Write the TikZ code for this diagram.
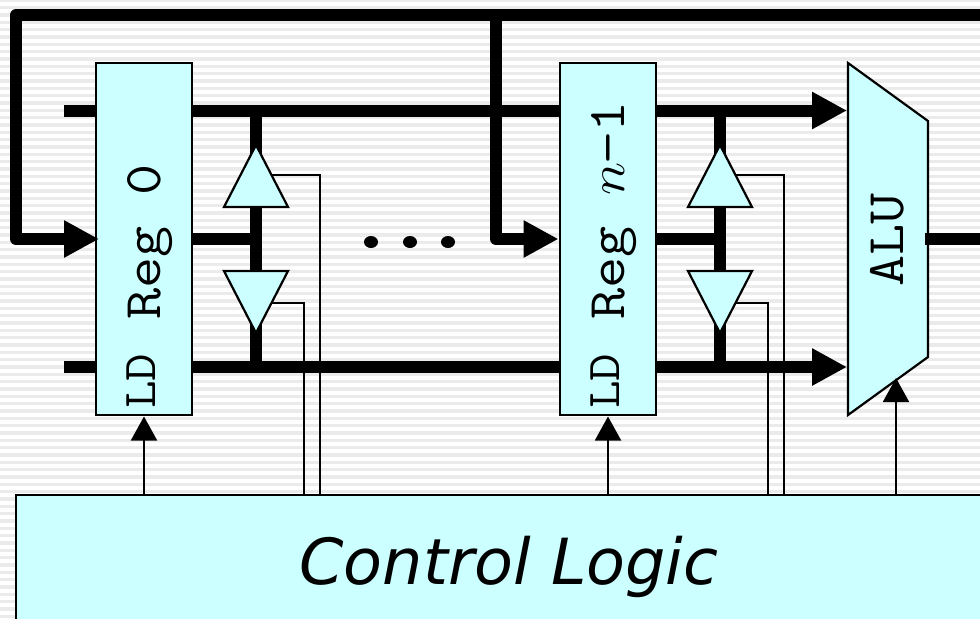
\documentclass[tikz,border=0pt]{standalone}
\usepackage{fontspec}
\setmainfont{DejaVu Sans}
\usetikzlibrary{arrows.meta}
\definecolor{fillc}{HTML}{CCFFFF}
\definecolor{stripe}{HTML}{EBEBEB}
\newcommand{\wide}[1]{\scalebox{1.14}[1]{#1}}
\tikzset{
  x=0.5pt,y=-0.5pt,
  bus/.style={line width=6pt,draw=black},
  busarrow/.style={bus,-{Triangle[length=17.5pt,width=17.5pt]}},
  ctl/.style={line width=1pt,draw=black},
  ctlarrow/.style={ctl,-{Triangle[length=12pt,width=13pt]}},
  shapebox/.style={draw=black,line width=1.1pt,fill=fillc,line join=miter},
  lab/.style={font=\fontsize{26.5}{26.5}\ttfamily,rotate=90,inner sep=0pt,anchor=base west},
  labsmall/.style={font=\fontsize{23.5}{23.5}\ttfamily,rotate=90,inner sep=0pt,anchor=base west},
}
\begin{document}
\begin{tikzpicture}
\useasboundingbox (0,0) rectangle (980,618);
\fill[white] (0,0) rectangle (980,618);
\foreach \i in {0,...,85}{\fill[stripe] (0,\i*7.333-1.4) rectangle (980,\i*7.333+2.0);}
% named coordinates
\coordinate (topl) at (16,15);
\coordinate (topr) at (980,15);
\coordinate (topm) at (496,15);
\coordinate (ta) at (64,110.5);
\coordinate (tb) at (64,367);
% buses
\draw[bus] (ta) -- (560,110.5);
\draw[bus] (tb) -- (560,367);
\draw[bus] (256,110.5) -- (256,367);
\draw[bus] (720,110.5) -- (720,367);
\draw[bus] (192,239) -- (256,239);
\draw[bus] (656,239) -- (720,239);
\draw[busarrow] (656,110.5) -- (847,110.5);
\draw[busarrow] (656,367) -- (847,367);
% control lines
\draw[ctl] (272,175) -- (320,175) -- (320,495);
\draw[ctl] (272,303) -- (304,303) -- (304,495);
\draw[ctl] (736,175) -- (784,175) -- (784,495);
\draw[ctl] (736,303) -- (768,303) -- (768,495);
% registers
\node[shapebox,minimum width=48pt,minimum height=176pt,inner sep=0pt] (r0) at (144,239) {};
\node[shapebox,minimum width=48pt,minimum height=176pt,inner sep=0pt] (r1) at (608,239) {};
\draw[shapebox] (848,63) -- (928,121) -- (928,357) -- (848,415) -- cycle;
\node[labsmall] at (155,409) {\wide{LD}};
\node[lab] at (160,320) {\wide{Reg 0}};
\node[labsmall] at (619,409) {\wide{LD}};
\node[lab] at (624,320) {\wide{Reg \makebox[0.525em]{$n$}−1}};
\node[lab] at (903,287) {\wide{ALU}};
\draw[bus] (925,239) -- (980,239);
\draw[busarrow,line join=round] (topr) -- (topl) -- (16,239) -- (99,239);
\draw[busarrow,line join=round] (topm) -- (496,239) -- (558.5,239);
% tristate buffers
\draw[shapebox] (256,145) -- (288,207) -- (224,207) -- cycle;
\draw[shapebox] (256,333) -- (288,271) -- (224,271) -- cycle;
\draw[shapebox] (720,145) -- (752,207) -- (688,207) -- cycle;
\draw[shapebox] (720,333) -- (752,271) -- (688,271) -- cycle;
% dots
\foreach \x in {371,410,448}{\fill (\x,242) ellipse [x radius=7,y radius=6];}
% control logic
\draw[shapebox] (16,495) rectangle (990,630);
\node[font=\fontsize{31.8}{32}\selectfont\itshape,inner sep=0pt,anchor=base] (cl) at (509,584) {Control Logic};
\draw[ctlarrow] (144,495) -- (144,416.5);
\draw[ctlarrow] (608,495) -- (608,416.5);
\draw[ctlarrow] (896,495) -- (896,378);
\end{tikzpicture}
\end{document}
